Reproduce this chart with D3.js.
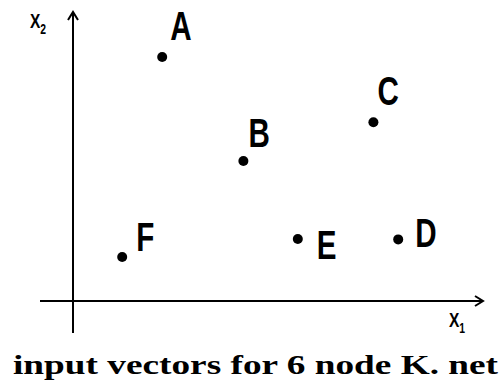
<!DOCTYPE html>
<html><head><meta charset="utf-8">
<script src="https://cdn.jsdelivr.net/npm/d3@7"></script>
<style>html,body{margin:0;padding:0;background:#fff;}svg{display:block;}</style>
</head><body>
<svg id="chart" width="504" height="385"></svg>
<script>
// ---- data ----
const names = ["A", "B", "C", "D", "E", "F"];
const x1Values = [2.23, 4.26, 7.51, 8.13, 5.62, 1.23];
const x2Values = [6.10, 3.50, 4.47, 1.54, 1.55, 1.10];
const labelDx = [8, 5, 4, 17, 19, 14];
const labelDy = [-17, -14, -17, 8, 20, -6];
const titleText = "input vectors for 6 node K. net";
const xAxisLabel = ["X", "1"];
const yAxisLabel = ["X", "2"];

const svg = d3.select("#chart");
const x = d3.scaleLinear().domain([0, 10]).range([73, 473]);
const y = d3.scaleLinear().domain([0, 7]).range([301, 21]);

const ax = svg.append("g").attr("stroke", "#000").attr("stroke-width", 2).attr("fill", "none");
// horizontal axis
ax.append("line").attr("x1", x(-0.825)).attr("x2", x(10.25)).attr("y1", y(0)).attr("y2", y(0));
ax.append("path").attr("d", `M${x(10.25)-8},${y(0)-5}L${x(10.25)},${y(0)}L${x(10.25)-8},${y(0)+5}`);
// vertical axis
ax.append("line").attr("x1", x(0)).attr("x2", x(0)).attr("y1", y(-0.8)).attr("y2", y(7.225));
ax.append("path").attr("d", `M${x(0)-5},${y(7.225)+8}L${x(0)},${y(7.225)}L${x(0)+5},${y(7.225)+8}`);

const sans = "'Liberation Sans',Arial,Helvetica,sans-serif";
const narrow = 0.74;

// points
svg.selectAll("circle.pt").data(names).join("circle")
  .attr("class", "pt")
  .attr("cx", (d, i) => x(x1Values[i]))
  .attr("cy", (d, i) => y(x2Values[i]))
  .attr("r", 5).attr("fill", "#000");

svg.selectAll("g.lbl").data(names).join("g")
  .attr("class", "lbl")
  .attr("transform", (d, i) => `translate(${x(x1Values[i]) + labelDx[i]},${y(x2Values[i]) + labelDy[i]}) scale(${narrow},1)`)
  .append("text")
  .attr("font-family", sans).attr("font-size", 40).attr("font-weight", "bold")
  .text(d => d);

// axis labels
function axisLabel(lbl, px, py) {
  const t = svg.append("g").attr("transform", `translate(${px},${py}) scale(${narrow},1)`)
    .append("text").attr("font-family", sans).attr("font-size", 21).attr("font-weight", "bold");
  t.append("tspan").text(lbl[0]);
  t.append("tspan").attr("dy", 6).attr("font-size", 14).text(lbl[1]);
}
axisLabel(xAxisLabel, 449, 327);
axisLabel(yAxisLabel, 30, 28);

// title
svg.append("text").attr("x", 13).attr("y", 374)
  .attr("font-family", "'Liberation Serif','DejaVu Serif',serif")
  .attr("font-weight", "bold").attr("font-size", 28)
  .attr("textLength", 485).attr("lengthAdjust", "spacingAndGlyphs")
  .text(titleText);
</script>
</body></html>
